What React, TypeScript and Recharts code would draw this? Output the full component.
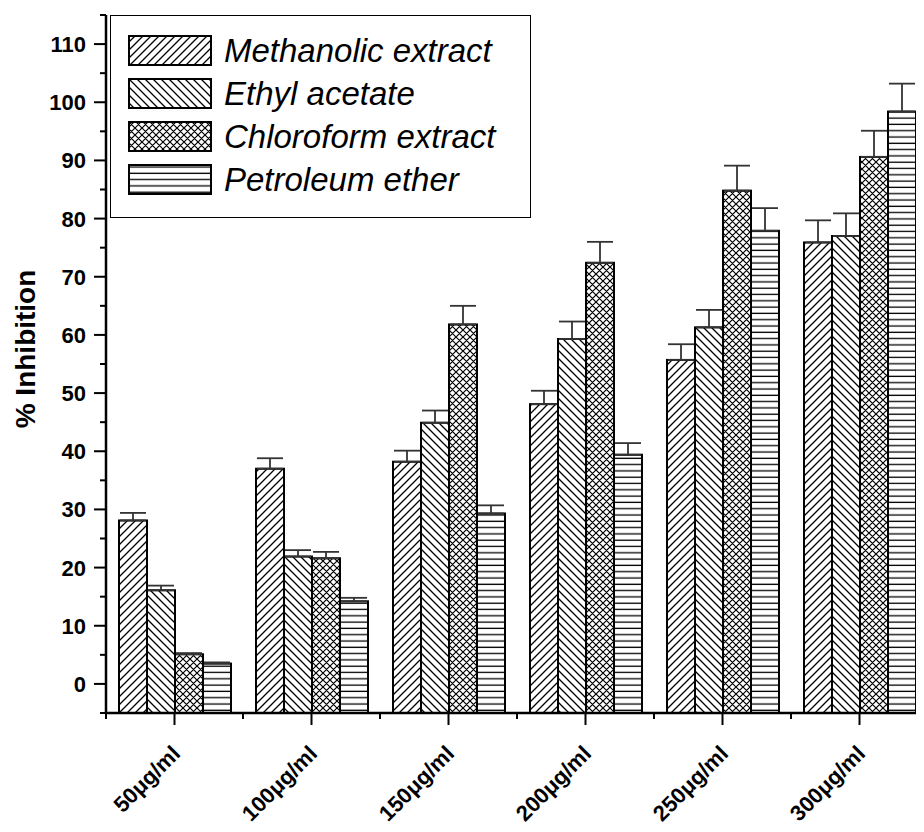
import React from "react";
import { BarChart, Bar, XAxis, YAxis, ErrorBar, Legend } from "recharts";

const doses = ["50μg/ml", "100μg/ml", "150μg/ml", "200μg/ml", "250μg/ml", "300μg/ml"];

const methanolic = [28.1, 37.0, 38.2, 48.1, 55.7, 75.9];
const methanolicErr = [1.3, 1.8, 1.9, 2.3, 2.7, 3.8];
const ethyl = [16.1, 21.9, 44.9, 59.3, 61.3, 77.0];
const ethylErr = [0.8, 1.1, 2.1, 3.0, 3.0, 3.9];
const chloroform = [5.1, 21.6, 61.8, 72.4, 84.8, 90.6];
const chloroformErr = [0.2, 1.1, 3.2, 3.6, 4.3, 4.5];
const petroleum = [3.5, 14.2, 29.3, 39.4, 77.9, 98.4];
const petroleumErr = [0.2, 0.6, 1.4, 2.0, 3.9, 4.8];

const yTicks = [-5, 0, 5, 10, 15, 20, 25, 30, 35, 40, 45, 50, 55, 60, 65, 70, 75, 80, 85, 90, 95, 100, 105, 110, 115];

const series = [
  { key: "m", name: "Methanolic extract", pattern: "hatchFwd" },
  { key: "e", name: "Ethyl acetate", pattern: "hatchBack" },
  { key: "c", name: "Chloroform extract", pattern: "hatchCross" },
  { key: "p", name: "Petroleum ether", pattern: "hatchHoriz" },
];

const data = doses.map((dose, i) => ({
  dose,
  m: methanolic[i],
  mErr: [0, methanolicErr[i]],
  e: ethyl[i],
  eErr: [0, ethylErr[i]],
  c: chloroform[i],
  cErr: [0, chloroformErr[i]],
  p: petroleum[i],
  pErr: [0, petroleumErr[i]],
}));

const FONT = "'Liberation Sans', Arial, sans-serif";

// bars are drawn down to the bottom of the plot, like the original (axis starts at -5)
const HatchBar = (props: any) => {
  const { x, y, width, height, fill, background } = props;
  const bottom = background ? background.y + background.height : y + height;
  return <rect x={x} y={y} width={width} height={bottom - y} fill={fill} stroke="#000" strokeWidth={2} />;
};

const YTick = ({ x, y, payload }: any) => {
  const major = payload.value % 10 === 0;
  return (
    <g>
      <line x1={x - (major ? 12 : 6)} x2={x} y1={y} y2={y} stroke="#000" strokeWidth={2} />
      {major && (
        <text x={x - 20} y={y} dy="0.36em" textAnchor="end" fontFamily={FONT} fontWeight="bold" fontSize={22} fill="#000">
          {payload.value}
        </text>
      )}
    </g>
  );
};

const XTick = ({ x, y, payload, index, visibleTicksCount }: any) => {
  const half = payload.offset || 68.5;
  const tx = x + 7;
  const ty = y + 42;
  return (
    <g>
      <line x1={x} x2={x} y1={y} y2={y + 12} stroke="#000" strokeWidth={2} />
      <line x1={x - half} x2={x - half} y1={y} y2={y + 6} stroke="#000" strokeWidth={2} />
      {index === visibleTicksCount - 1 && (
        <line x1={x + half} x2={x + half} y1={y} y2={y + 6} stroke="#000" strokeWidth={2} />
      )}
      <text x={tx} y={ty} transform={`rotate(-45, ${tx}, ${ty})`} textAnchor="end" fontFamily={FONT} fontWeight="bold" fontSize={22} fill="#000">
        {payload.value}
      </text>
    </g>
  );
};

const YLabel = ({ viewBox }: any) => {
  const cx = 17;
  const cy = viewBox.y + viewBox.height / 2 - 15;
  return (
    <text x={cx} y={cy} transform={`rotate(-90, ${cx}, ${cy})`} textAnchor="middle" dominantBaseline="central" fontFamily={FONT} fontWeight="bold" fontSize={28} fill="#000">
      % Inhibition
    </text>
  );
};

const LegendBox = () => (
  <div
    style={{
      width: 421,
      height: 203,
      boxSizing: "border-box",
      border: "1.5px solid #000",
      background: "#fff",
      paddingTop: 13,
      paddingLeft: 17,
    }}
  >
    {series.map((s) => (
      <div key={s.key} style={{ height: 43, display: "flex", alignItems: "center" }}>
        <svg width={84} height={31} style={{ display: "block" }}>
          <rect x={1} y={1} width={82} height={29} fill={`url(#${s.pattern})`} stroke="#000" strokeWidth={2} />
        </svg>
        <span style={{ marginLeft: 12, fontFamily: FONT, fontStyle: "italic", fontSize: 33, color: "#000", lineHeight: 1 }}>
          {s.name}
        </span>
      </div>
    ))}
  </div>
);

export default function App() {
  return (
    <div style={{ width: 916, height: 824, overflow: "hidden", marginBottom: -8 }}>
      <BarChart width={930} height={824} data={data} margin={{ top: 7, right: 10, bottom: 0, left: 0 }} barGap={0} barSize={28}>
        <defs>
          <pattern id="hatchFwd" patternUnits="userSpaceOnUse" width={8} height={8}>
            <rect width={8} height={8} fill="#fff" />
            <path d="M0,8 L8,0 M-2,2 L2,-2 M6,10 L10,6" stroke="#000" strokeWidth={1.3} />
          </pattern>
          <pattern id="hatchBack" patternUnits="userSpaceOnUse" width={8} height={8}>
            <rect width={8} height={8} fill="#fff" />
            <path d="M0,0 L8,8 M-2,6 L2,10 M6,-2 L10,2" stroke="#000" strokeWidth={1.3} />
          </pattern>
          <pattern id="hatchCross" patternUnits="userSpaceOnUse" width={7} height={7}>
            <rect width={7} height={7} fill="#fff" />
            <path d="M0,7 L7,0 M-2,2 L2,-2 M5,9 L9,5 M0,0 L7,7 M-2,5 L2,9 M5,-2 L9,2" stroke="#000" strokeWidth={1.2} />
          </pattern>
          <pattern id="hatchHoriz" patternUnits="userSpaceOnUse" width={6} height={6.3}>
            <rect width={6} height={6.3} fill="#fff" />
            <path d="M0,3 L6,3" stroke="#000" strokeWidth={1.3} />
          </pattern>
        </defs>
        <XAxis
          dataKey="dose"
          height={119}
          tickLine={false}
          tickSize={0}
          tickMargin={0}
          interval={0}
          axisLine={{ stroke: "#000", strokeWidth: 2.5 }}
          tick={<XTick />}
        />
        <YAxis
          type="number"
          width={98}
          domain={[-5, 115]}
          ticks={yTicks}
          interval={0}
          allowDataOverflow
          tickLine={false}
          tickSize={0}
          tickMargin={0}
          axisLine={{ stroke: "#000", strokeWidth: 2.5 }}
          tick={<YTick />}
          label={<YLabel />}
        />
        <Legend
          layout="vertical"
          verticalAlign="middle"
          align="center"
          wrapperStyle={{ top: 7, left: 102, width: 421, height: 203 }}
          content={() => <LegendBox />}
        />
        {series.map((s) => (
          <Bar key={s.key} dataKey={s.key} name={s.name} fill={`url(#${s.pattern})`} shape={(p: any) => <HatchBar {...p} />} isAnimationActive={false}>
            <ErrorBar dataKey={`${s.key}Err`} direction="y" width={13} stroke="#333" strokeWidth={1.8} />
          </Bar>
        ))}
      </BarChart>
    </div>
  );
}
